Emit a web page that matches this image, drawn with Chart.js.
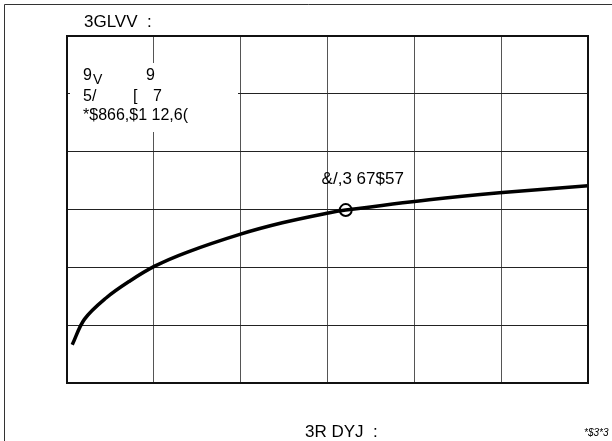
<!DOCTYPE html>
<html>
<head>
<meta charset="utf-8">
<script src="https://cdn.jsdelivr.net/npm/chart.js@4"></script>
<style>
  html, body { margin: 0; padding: 0; background: #fff; }
  canvas { display: block; }
</style>
</head>
<body>
<canvas id="myChart" width="612" height="441"></canvas>
<script>
// curve values, in grid units (6 x 6 grid)
var curveX = [0.06, 0.2, 0.45, 0.72, 1.01, 1.38, 1.99, 2.48, 3.01, 3.21, 4.17, 4.98, 6.0];
var curveY = [0.66, 1.1, 1.47, 1.76, 2.02, 2.26, 2.57, 2.77, 2.94, 2.99, 3.17, 3.29, 3.41];
var markerX = 3.21;
var markerY = 2.99;
var markerLabel = "&/,3 67$57";
var titleText = "3GLVV  :";
var xTitleText = "3R DYJ  :";
var cornerText = "*$3*3";
var legendLines = [["9", "V", "9"], ["5/", "[", "7"], ["*$866,$1 12,6("]];

var points = [];
for (var i = 0; i < curveX.length; i++) {
    points.push({x: curveX[i], y: curveY[i]});
}

var font = "'Liberation Sans', Arial, sans-serif";

var decor = {
    id: "decor",
    beforeDraw: function (chart) {
        var ctx = chart.ctx;
        ctx.save();
        ctx.fillStyle = "#fff";
        ctx.fillRect(0, 0, chart.width, chart.height);
        // outer frame
        ctx.strokeStyle = "#333";
        ctx.lineWidth = 1;
        ctx.beginPath();
        ctx.moveTo(4.5, chart.height);
        ctx.lineTo(4.5, 4.5);
        ctx.lineTo(chart.width, 4.5);
        ctx.stroke();
        ctx.restore();
    },
    beforeDatasetsDraw: function (chart) {
        var ctx = chart.ctx;
        var a = chart.chartArea;
        ctx.save();
        // legend box covers the grid
        ctx.fillStyle = "#fff";
        ctx.fillRect(a.left + 3, 63, 168, 69);
        ctx.fillStyle = "#000";
        ctx.textBaseline = "middle";
        ctx.font = "16px " + font;
        ctx.fillText(legendLines[0][0], 83, 76);
        ctx.font = "14px " + font;
        ctx.fillText(legendLines[0][1], 93, 80);
        ctx.font = "16px " + font;
        ctx.fillText(legendLines[0][2], 146, 76);
        ctx.fillText(legendLines[1][0], 83, 97);
        ctx.fillText(legendLines[1][1], 133, 97);
        ctx.fillText(legendLines[1][2], 153, 97);
        ctx.fillText(legendLines[2][0], 83, 116);
        ctx.restore();
    },
    afterDraw: function (chart) {
        var ctx = chart.ctx;
        var a = chart.chartArea;
        var xs = chart.scales.x, ys = chart.scales.y;
        ctx.save();
        ctx.strokeStyle = "#111";
        ctx.lineWidth = 2;
        ctx.strokeRect(a.left, a.top, a.right - a.left, a.bottom - a.top);
        ctx.fillStyle = "#000";
        ctx.textBaseline = "middle";
        ctx.font = "17px " + font;
        ctx.fillText(titleText, 84, 22);
        ctx.fillText(xTitleText, 305, 432);
        ctx.textAlign = "center";
        ctx.fillText(markerLabel, xs.getPixelForValue(markerX) + 17, ys.getPixelForValue(markerY) - 31);
        ctx.textAlign = "left";
        ctx.font = "italic 10px " + font;
        ctx.fillText(cornerText, 584, 433);
        ctx.restore();
    }
};

new Chart("myChart", {
    type: "scatter",
    data: {
        datasets: [{
            data: points,
            showLine: true,
            borderColor: "#000",
            borderWidth: 3.5,
            pointRadius: 0,
            tension: 0.35
        }, {
            data: [{x: markerX, y: markerY}],
            pointRadius: 6,
            pointBackgroundColor: "#fff",
            pointBorderColor: "#000",
            pointBorderWidth: 2
        }]
    },
    options: {
        responsive: false,
        animation: false,
        layout: {padding: {left: 67, top: 36, right: 24, bottom: 58}},
        plugins: {legend: {display: false}, tooltip: {enabled: false}},
        scales: {
            x: {
                type: "linear", min: 0, max: 6,
                ticks: {display: false, stepSize: 1},
                grid: {color: "#555", drawTicks: false},
                border: {display: false}
            },
            y: {
                type: "linear", min: 0, max: 6,
                ticks: {display: false, stepSize: 1},
                grid: {color: "#222", drawTicks: false},
                border: {display: false}
            }
        }
    },
    plugins: [decor]
});
</script>
</body>
</html>
